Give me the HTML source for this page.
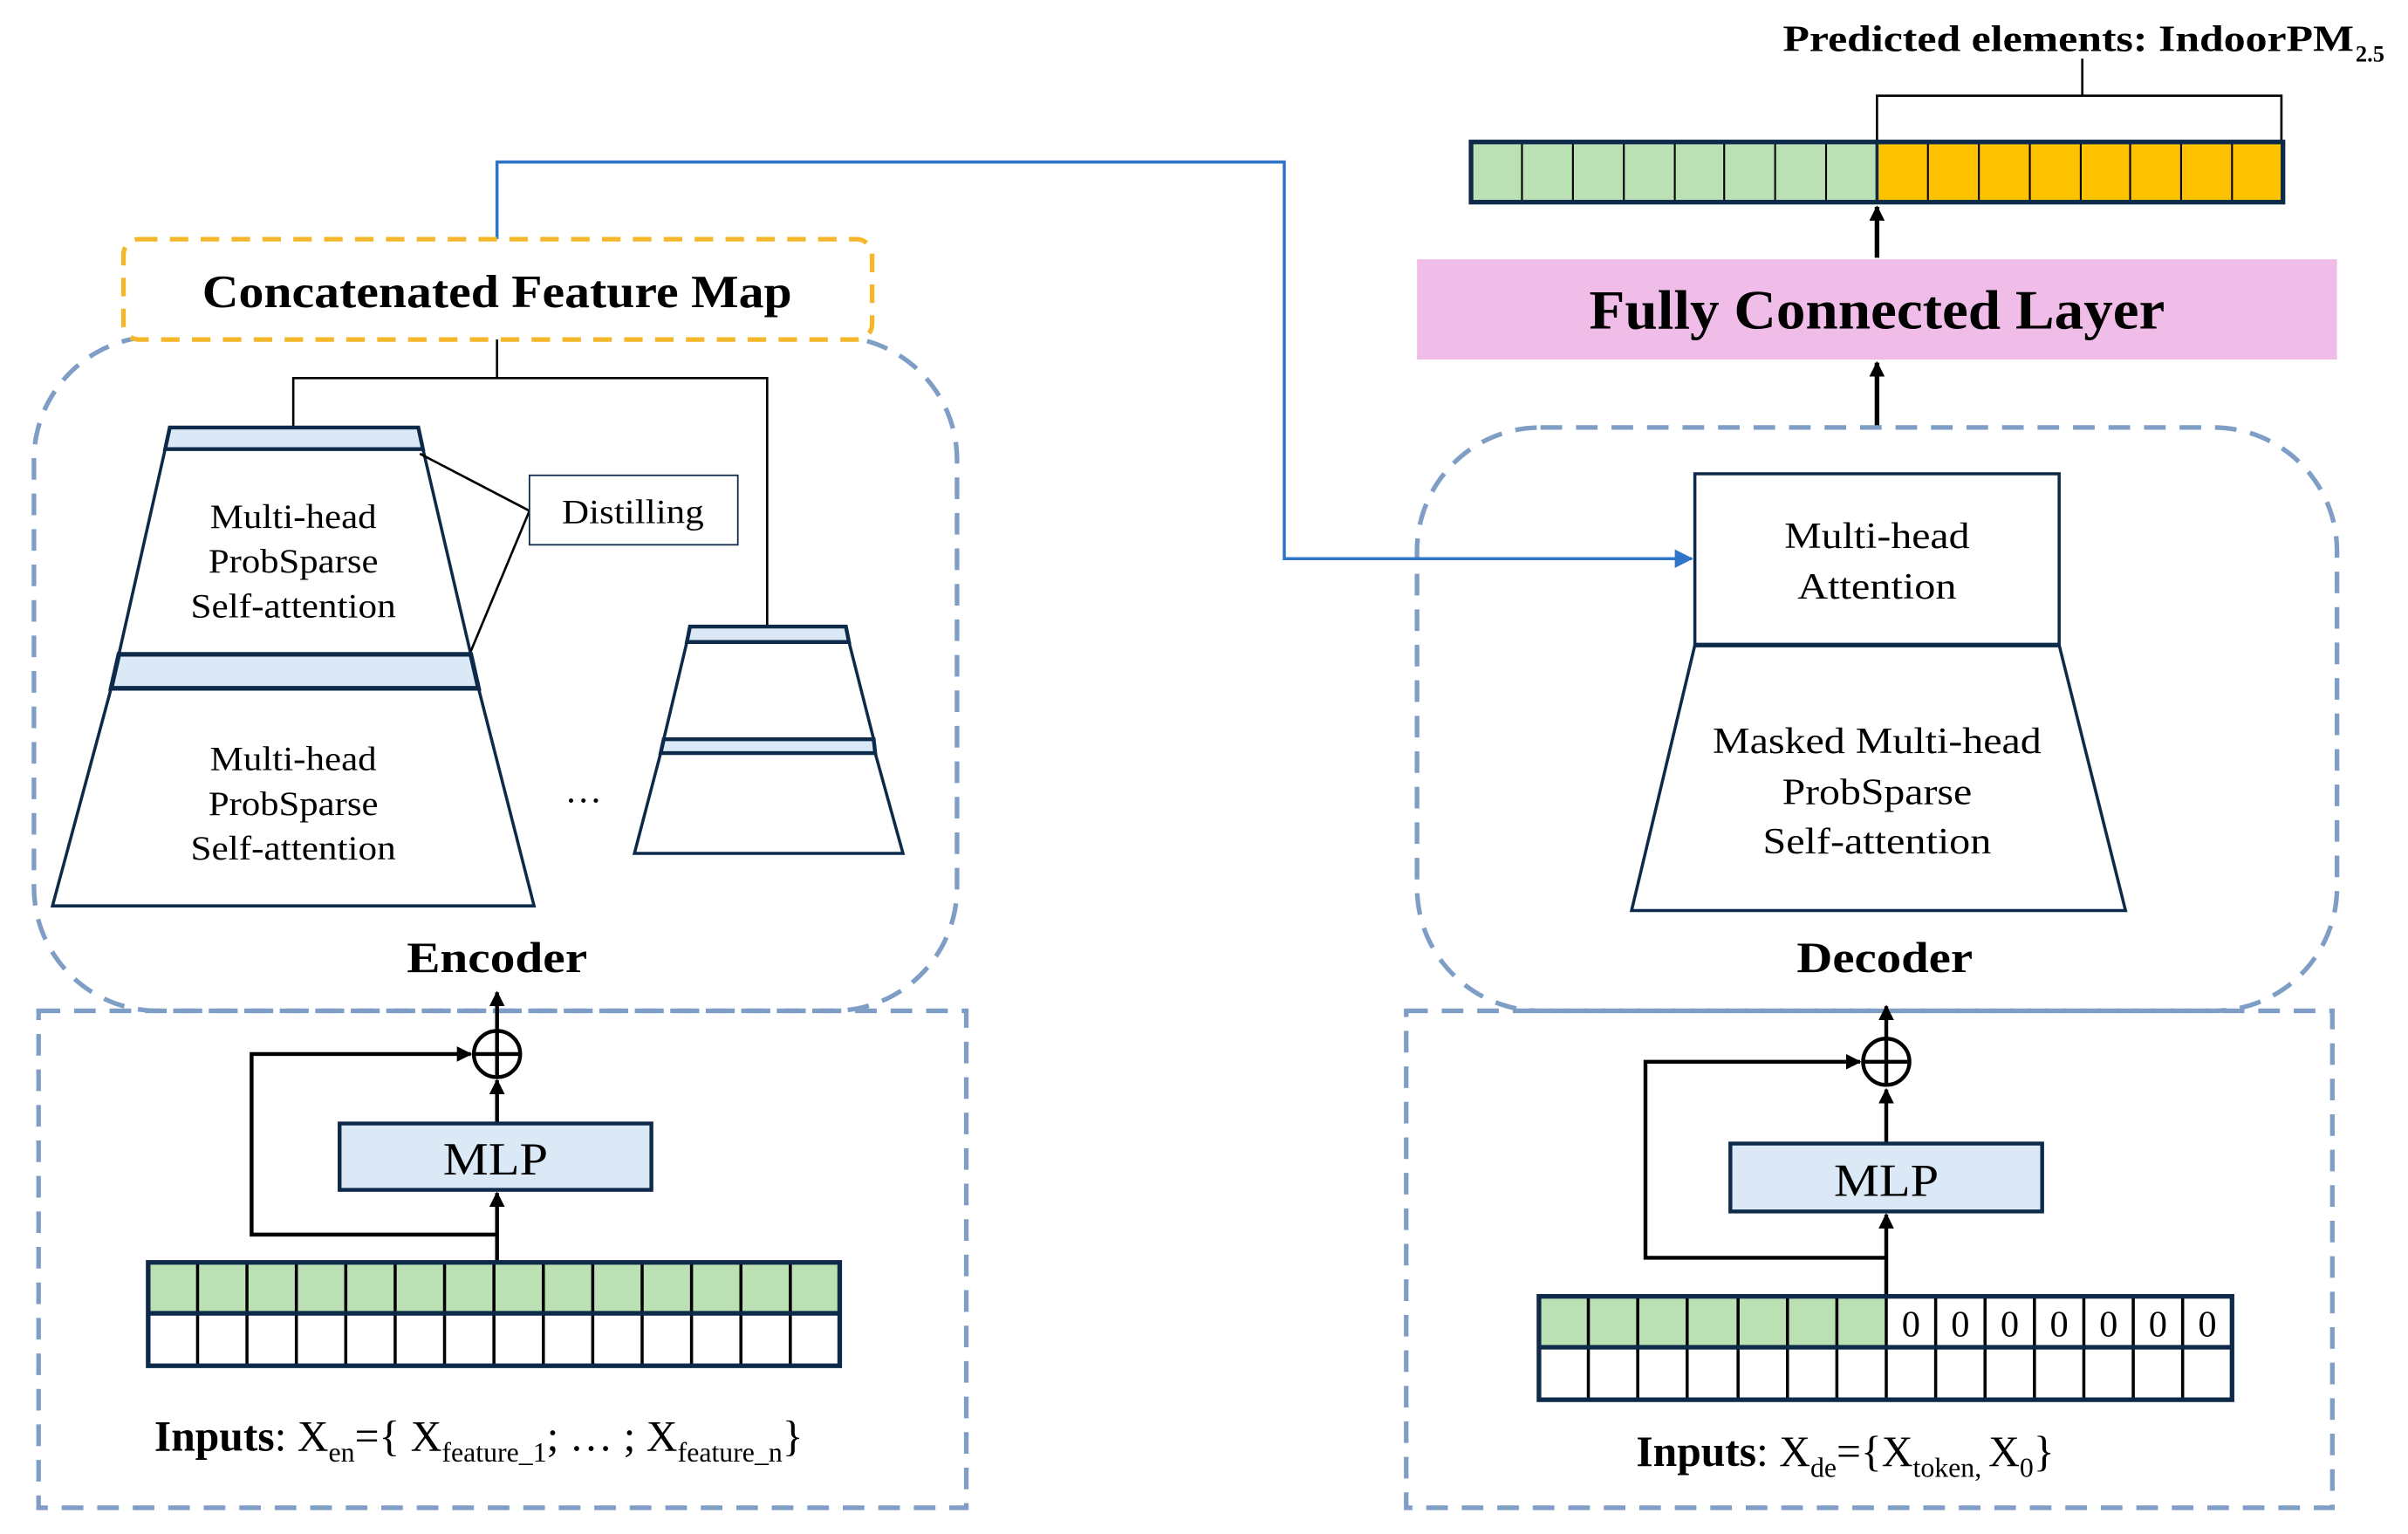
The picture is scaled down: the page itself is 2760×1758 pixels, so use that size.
<!DOCTYPE html>
<html><head><meta charset="utf-8"><style>html,body{margin:0;padding:0;background:#fff}svg{display:block}svg text{font-family:"Liberation Serif","Times New Roman",serif}</style></head>
<body>
<svg width="2760" height="1758" viewBox="0 0 1560 994" preserveAspectRatio="none" xmlns="http://www.w3.org/2000/svg">
<defs>
<marker id="ah" markerWidth="10" markerHeight="10" refX="9" refY="5" orient="auto" markerUnits="userSpaceOnUse" viewBox="0 0 10 10"><path d="M0,0 L10,5 L0,10 z" fill="#000"/></marker>
<marker id="ab" markerWidth="12" markerHeight="12" refX="11" refY="6" orient="auto" markerUnits="userSpaceOnUse" viewBox="0 0 12 12"><path d="M0,0 L12,6 L0,12 z" fill="#2e75c8"/></marker>
</defs>
<rect width="1560" height="994" fill="#fff"/>

<text x="1155" y="33" font-size="24" font-weight="bold" textLength="370" lengthAdjust="spacingAndGlyphs">Predicted elements: IndoorPM</text>
<text x="1526" y="40" font-size="15" font-weight="bold">2.5</text>
<path d="M1349,38 V62 M1216,93 V62 H1478 V93" fill="none" stroke="#000" stroke-width="1.5"/>
<rect x="953" y="92" width="263" height="39" fill="#bbe0b4"/>
<rect x="1216" y="92" width="263" height="39" fill="#fdc300"/>
<g stroke="#000" stroke-width="1.2">
<line x1="986" y1="92" x2="986" y2="131"/><line x1="1019" y1="92" x2="1019" y2="131"/><line x1="1052" y1="92" x2="1052" y2="131"/><line x1="1085" y1="92" x2="1085" y2="131"/><line x1="1117" y1="92" x2="1117" y2="131"/><line x1="1150" y1="92" x2="1150" y2="131"/><line x1="1183" y1="92" x2="1183" y2="131"/>
<line x1="1249" y1="92" x2="1249" y2="131"/><line x1="1282" y1="92" x2="1282" y2="131"/><line x1="1315" y1="92" x2="1315" y2="131"/><line x1="1348" y1="92" x2="1348" y2="131"/><line x1="1380" y1="92" x2="1380" y2="131"/><line x1="1413" y1="92" x2="1413" y2="131"/><line x1="1446" y1="92" x2="1446" y2="131"/>
</g>
<line x1="1216" y1="92" x2="1216" y2="131" stroke="#0e2a4a" stroke-width="2"/>
<rect x="953" y="92" width="526" height="39" fill="none" stroke="#0e2a4a" stroke-width="3"/>
<line x1="1216" y1="167" x2="1216" y2="134" stroke="#000" stroke-width="3" marker-end="url(#ah)"/>

<rect x="918" y="168" width="596" height="65" fill="#f0bde8"/>
<text x="1216" y="213" font-size="36" font-weight="bold" text-anchor="middle" textLength="373" lengthAdjust="spacingAndGlyphs">Fully Connected Layer</text>
<line x1="1216" y1="277" x2="1216" y2="235" stroke="#000" stroke-width="3" marker-end="url(#ah)"/>

<rect x="918" y="277" width="596" height="378" rx="80" fill="none" stroke="#7f9ec5" stroke-width="3" stroke-dasharray="14,9"/>
<rect x="1098" y="307" width="236" height="111" fill="#fff" stroke="#0e2a4a" stroke-width="2"/>
<text x="1216" y="355" font-size="24" text-anchor="middle" textLength="120" lengthAdjust="spacingAndGlyphs">Multi-head</text>
<text x="1216" y="388" font-size="24" text-anchor="middle" textLength="103" lengthAdjust="spacingAndGlyphs">Attention</text>
<line x1="1098" y1="418" x2="1334" y2="418" stroke="#0e2a4a" stroke-width="3"/>
<path d="M1098,418 L1334,418 L1377,590 L1057,590 Z" fill="none" stroke="#0e2a4a" stroke-width="2"/>
<text x="1216" y="488" font-size="24" text-anchor="middle" textLength="213" lengthAdjust="spacingAndGlyphs">Masked Multi-head</text>
<text x="1216" y="521" font-size="24" text-anchor="middle" textLength="123" lengthAdjust="spacingAndGlyphs">ProbSparse</text>
<text x="1216" y="553" font-size="24" text-anchor="middle" textLength="148" lengthAdjust="spacingAndGlyphs">Self-attention</text>
<text x="1221" y="630" font-size="28" font-weight="bold" text-anchor="middle" textLength="114" lengthAdjust="spacingAndGlyphs">Decoder</text>

<rect x="911" y="655" width="600" height="322" fill="none" stroke="#7f9ec5" stroke-width="3" stroke-dasharray="14,9"/>
<line x1="1222" y1="673" x2="1222" y2="652" stroke="#000" stroke-width="2.5" marker-end="url(#ah)"/>
<circle cx="1222" cy="688" r="15" fill="none" stroke="#000" stroke-width="2.5"/>
<path d="M1207,688 H1237 M1222,673 V703" stroke="#000" stroke-width="2.5"/>
<line x1="1222" y1="741" x2="1222" y2="706" stroke="#000" stroke-width="2.5" marker-end="url(#ah)"/>
<path d="M1222,815 H1066 V688 H1205" fill="none" stroke="#000" stroke-width="2.5" marker-end="url(#ah)"/>
<rect x="1121" y="741" width="202" height="44" fill="#dbe9f7" stroke="#0e2a4a" stroke-width="2.5"/>
<text x="1222" y="775" font-size="30" text-anchor="middle" textLength="68" lengthAdjust="spacingAndGlyphs">MLP</text>
<line x1="1222" y1="840" x2="1222" y2="787" stroke="#000" stroke-width="2.5" marker-end="url(#ah)"/>
<rect x="997" y="840" width="225" height="33" fill="#bbe0b4"/>
<g stroke="#000" stroke-width="2">
<line x1="1029" y1="840" x2="1029" y2="907"/><line x1="1061" y1="840" x2="1061" y2="907"/><line x1="1093" y1="840" x2="1093" y2="907"/><line x1="1126" y1="840" x2="1126" y2="907"/><line x1="1158" y1="840" x2="1158" y2="907"/><line x1="1190" y1="840" x2="1190" y2="907"/><line x1="1222" y1="840" x2="1222" y2="907"/>
<line x1="1254" y1="840" x2="1254" y2="907"/><line x1="1286" y1="840" x2="1286" y2="907"/><line x1="1318" y1="840" x2="1318" y2="907"/><line x1="1350" y1="840" x2="1350" y2="907"/><line x1="1382" y1="840" x2="1382" y2="907"/><line x1="1414" y1="840" x2="1414" y2="907"/>
</g>
<line x1="997" y1="873" x2="1446" y2="873" stroke="#0e2a4a" stroke-width="3"/>
<rect x="997" y="840" width="449" height="67" fill="none" stroke="#0e2a4a" stroke-width="3"/>
<g font-size="24" text-anchor="middle">
<text x="1238" y="866">0</text><text x="1270" y="866">0</text><text x="1302" y="866">0</text><text x="1334" y="866">0</text><text x="1366" y="866">0</text><text x="1398" y="866">0</text><text x="1430" y="866">0</text>
</g>
<text x="1060" y="950" font-size="28"><tspan font-weight="bold">Inputs</tspan>: X<tspan font-size="18" dy="7">de</tspan><tspan dy="-7">={X</tspan><tspan font-size="18" dy="7">token, </tspan><tspan dy="-7">X</tspan><tspan font-size="18" dy="7">0</tspan><tspan dy="-7">}</tspan></text>

<path d="M322,155 V105 H832 V362 H1096" fill="none" stroke="#2e75c8" stroke-width="2" marker-end="url(#ab)"/>

<rect x="22" y="218" width="598" height="437" rx="80" fill="none" stroke="#7f9ec5" stroke-width="3" stroke-dasharray="14,9"/>
<rect x="80" y="155" width="485" height="65" rx="10" fill="#fff" stroke="#f4b72a" stroke-width="3" stroke-dasharray="12,8"/>
<text x="322" y="199" font-size="30" font-weight="bold" text-anchor="middle" textLength="382" lengthAdjust="spacingAndGlyphs">Concatenated Feature Map</text>
<path d="M322,220 V245 M190,277 V245 H497 V406" fill="none" stroke="#000" stroke-width="1.5"/>

<path d="M110,277 L271,277 L274,291 L107,291 Z" fill="#dbe9f7" stroke="#0e2a4a" stroke-width="2.5"/>
<path d="M107,291 L274,291 L305,424 L77,424 Z" fill="none" stroke="#0e2a4a" stroke-width="2"/>
<text x="190" y="342" font-size="22" text-anchor="middle" textLength="108" lengthAdjust="spacingAndGlyphs">Multi-head</text>
<text x="190" y="371" font-size="22" text-anchor="middle" textLength="110" lengthAdjust="spacingAndGlyphs">ProbSparse</text>
<text x="190" y="400" font-size="22" text-anchor="middle" textLength="133" lengthAdjust="spacingAndGlyphs">Self-attention</text>
<path d="M77,424 L305,424 L310,446 L72,446 Z" fill="#dbe9f7" stroke="#0e2a4a" stroke-width="3"/>
<path d="M72,446 L310,446 L346,587 L34,587 Z" fill="none" stroke="#0e2a4a" stroke-width="2"/>
<text x="190" y="499" font-size="22" text-anchor="middle" textLength="108" lengthAdjust="spacingAndGlyphs">Multi-head</text>
<text x="190" y="528" font-size="22" text-anchor="middle" textLength="110" lengthAdjust="spacingAndGlyphs">ProbSparse</text>
<text x="190" y="557" font-size="22" text-anchor="middle" textLength="133" lengthAdjust="spacingAndGlyphs">Self-attention</text>
<path d="M272,294 L343,331 L305,422" fill="none" stroke="#000" stroke-width="1.5"/>
<rect x="343" y="308" width="135" height="45" fill="#fff" stroke="#0e2a4a" stroke-width="1"/>
<text x="410" y="339" font-size="22" text-anchor="middle" textLength="92" lengthAdjust="spacingAndGlyphs">Distilling</text>
<text x="378" y="520" font-size="24" text-anchor="middle">…</text>

<path d="M447,406 L548,406 L550,416 L445,416 Z" fill="#dbe9f7" stroke="#0e2a4a" stroke-width="2.5"/>
<path d="M445,416 L550,416 L566,479 L430,479 Z" fill="none" stroke="#0e2a4a" stroke-width="2"/>
<path d="M430,479 L566,479 L567,488 L428,488 Z" fill="#dbe9f7" stroke="#0e2a4a" stroke-width="2.5"/>
<path d="M428,488 L567,488 L585,553 L411,553 Z" fill="none" stroke="#0e2a4a" stroke-width="2"/>
<text x="322" y="630" font-size="28" font-weight="bold" text-anchor="middle" textLength="117" lengthAdjust="spacingAndGlyphs">Encoder</text>

<rect x="25" y="655" width="601" height="322" fill="none" stroke="#7f9ec5" stroke-width="3" stroke-dasharray="14,9"/>
<line x1="322" y1="668" x2="322" y2="643" stroke="#000" stroke-width="2.5" marker-end="url(#ah)"/>
<circle cx="322" cy="683" r="15" fill="none" stroke="#000" stroke-width="2.5"/>
<path d="M307,683 H337 M322,668 V698" stroke="#000" stroke-width="2.5"/>
<line x1="322" y1="728" x2="322" y2="700" stroke="#000" stroke-width="2.5" marker-end="url(#ah)"/>
<path d="M322,800 H163 V683 H305" fill="none" stroke="#000" stroke-width="2.5" marker-end="url(#ah)"/>
<rect x="220" y="728" width="202" height="43" fill="#dbe9f7" stroke="#0e2a4a" stroke-width="2.5"/>
<text x="321" y="761" font-size="30" text-anchor="middle" textLength="68" lengthAdjust="spacingAndGlyphs">MLP</text>
<line x1="322" y1="818" x2="322" y2="773" stroke="#000" stroke-width="2.5" marker-end="url(#ah)"/>
<rect x="96" y="818" width="448" height="33" fill="#bbe0b4"/>
<g stroke="#000" stroke-width="2">
<line x1="128" y1="818" x2="128" y2="885"/><line x1="160" y1="818" x2="160" y2="885"/><line x1="192" y1="818" x2="192" y2="885"/><line x1="224" y1="818" x2="224" y2="885"/><line x1="256" y1="818" x2="256" y2="885"/><line x1="288" y1="818" x2="288" y2="885"/><line x1="320" y1="818" x2="320" y2="885"/><line x1="352" y1="818" x2="352" y2="885"/><line x1="384" y1="818" x2="384" y2="885"/><line x1="416" y1="818" x2="416" y2="885"/><line x1="448" y1="818" x2="448" y2="885"/><line x1="480" y1="818" x2="480" y2="885"/><line x1="512" y1="818" x2="512" y2="885"/>
</g>
<line x1="96" y1="851" x2="544" y2="851" stroke="#0e2a4a" stroke-width="3"/>
<rect x="96" y="818" width="448" height="67" fill="none" stroke="#0e2a4a" stroke-width="3"/>
<text x="100" y="940" font-size="28"><tspan font-weight="bold">Inputs</tspan>: X<tspan font-size="18" dy="7">en</tspan><tspan dy="-7">={ X</tspan><tspan font-size="18" dy="7">feature_1</tspan><tspan dy="-7">; … ; X</tspan><tspan font-size="18" dy="7">feature_n</tspan><tspan dy="-7">}</tspan></text>
</svg>
</body></html>
